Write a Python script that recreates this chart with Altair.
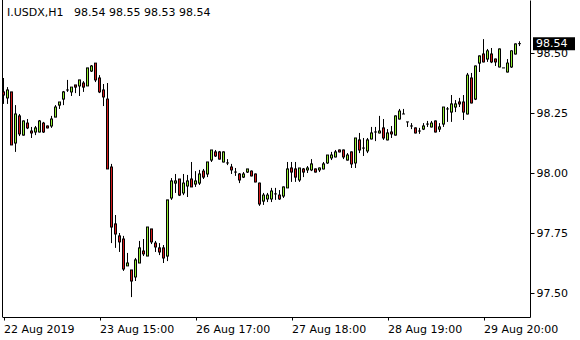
import altair as alt
import pandas as pd

# ---- data (I.USDX, H1) ----
opens = [
    98.339, 98.314, 98.339, 98.126, 98.239, 98.159, 98.209, 98.176, 98.172, 98.172,
    98.209, 98.197, 98.197, 98.234, 98.284, 98.309, 98.347, 98.339, 98.368, 98.364,
    98.376, 98.364, 98.426, 98.459, 98.397, 98.347, 98.309, 98.026, 97.789, 97.739,
    97.726, 97.614, 97.597, 97.568, 97.626, 97.676, 97.655, 97.768, 97.709, 97.689,
    97.689, 97.655, 97.897, 97.959, 97.976, 97.918, 97.947, 97.976, 97.955, 97.959,
    98.009, 97.997, 98.055, 98.089, 98.089, 98.047, 98.043, 98.026, 98.005, 97.997,
    97.984, 98.005, 98.009, 97.997, 97.959, 97.884, 97.893, 97.893, 97.914, 97.909,
    97.905, 97.939, 98.022, 98.018, 97.972, 98.018, 98.014, 98.014, 98.018, 98.014,
    98.018, 98.043, 98.064, 98.068, 98.097, 98.097, 98.055, 98.089, 98.043, 98.139,
    98.105, 98.093, 98.143, 98.172, 98.168, 98.189, 98.139, 98.172, 98.159, 98.226,
    98.247, 98.214, 98.197, 98.189, 98.176, 98.184, 98.205, 98.193, 98.218, 98.184,
    98.205, 98.268, 98.255, 98.276, 98.297, 98.297, 98.247, 98.397, 98.309, 98.459,
    98.497, 98.476, 98.497, 98.476, 98.443, 98.439, 98.422, 98.443, 98.497, 98.540,
]
highs = [
    98.397, 98.359, 98.339, 98.284, 98.247, 98.220, 98.226, 98.193, 98.197, 98.222,
    98.214, 98.199, 98.239, 98.284, 98.297, 98.343, 98.389, 98.359, 98.368, 98.389,
    98.384, 98.439, 98.451, 98.459, 98.409, 98.372, 98.376, 98.039, 97.826, 97.751,
    97.739, 97.668, 97.597, 97.647, 97.718, 97.726, 97.776, 97.768, 97.718, 97.709,
    97.701, 97.889, 97.980, 97.997, 97.976, 97.997, 97.993, 98.047, 98.009, 98.014,
    98.018, 98.047, 98.097, 98.097, 98.093, 98.091, 98.059, 98.039, 98.022, 98.001,
    98.005, 98.018, 98.012, 97.999, 97.961, 97.918, 97.918, 97.939, 97.939, 97.930,
    97.945, 98.047, 98.047, 98.047, 98.022, 98.022, 98.030, 98.059, 98.020, 98.024,
    98.047, 98.076, 98.089, 98.097, 98.099, 98.099, 98.084, 98.091, 98.147, 98.168,
    98.147, 98.147, 98.193, 98.193, 98.239, 98.226, 98.184, 98.197, 98.241, 98.268,
    98.268, 98.214, 98.209, 98.191, 98.189, 98.209, 98.218, 98.218, 98.220, 98.209,
    98.276, 98.276, 98.326, 98.305, 98.314, 98.326, 98.418, 98.418, 98.449, 98.491,
    98.559, 98.518, 98.522, 98.478, 98.520, 98.439, 98.476, 98.512, 98.541, 98.550,
]
lows = [
    98.289, 98.289, 98.118, 98.089, 98.155, 98.157, 98.184, 98.147, 98.159, 98.170,
    98.168, 98.187, 98.189, 98.234, 98.268, 98.284, 98.339, 98.322, 98.334, 98.322,
    98.339, 98.364, 98.422, 98.380, 98.334, 98.280, 98.018, 97.709, 97.689, 97.672,
    97.593, 97.614, 97.484, 97.551, 97.626, 97.655, 97.655, 97.705, 97.672, 97.659,
    97.626, 97.634, 97.889, 97.918, 97.905, 97.909, 97.901, 97.943, 97.943, 97.951,
    97.976, 97.984, 98.047, 98.068, 98.057, 98.045, 98.034, 97.997, 97.989, 97.959,
    97.980, 98.001, 97.987, 97.962, 97.864, 97.868, 97.880, 97.880, 97.889, 97.889,
    97.897, 97.939, 97.964, 97.964, 97.964, 97.984, 98.001, 98.009, 98.003, 98.005,
    98.016, 98.039, 98.055, 98.066, 98.087, 98.059, 98.053, 98.022, 98.022, 98.084,
    98.072, 98.084, 98.141, 98.134, 98.166, 98.139, 98.137, 98.147, 98.157, 98.224,
    98.247, 98.193, 98.184, 98.166, 98.164, 98.180, 98.193, 98.191, 98.170, 98.172,
    98.193, 98.214, 98.214, 98.255, 98.276, 98.222, 98.245, 98.291, 98.305, 98.422,
    98.462, 98.464, 98.459, 98.447, 98.441, 98.439, 98.420, 98.439, 98.495, 98.530,
]
closes = [
    98.326, 98.347, 98.118, 98.247, 98.164, 98.218, 98.189, 98.168, 98.189, 98.218,
    98.172, 98.189, 98.226, 98.276, 98.297, 98.339, 98.347, 98.359, 98.359, 98.389,
    98.359, 98.439, 98.447, 98.389, 98.339, 98.318, 98.018, 97.776, 97.747, 97.714,
    97.601, 97.626, 97.551, 97.639, 97.689, 97.664, 97.776, 97.714, 97.693, 97.672,
    97.647, 97.889, 97.968, 97.968, 97.909, 97.959, 97.968, 97.943, 97.968, 97.997,
    97.984, 98.047, 98.097, 98.072, 98.059, 98.089, 98.043, 98.014, 98.005, 97.972,
    97.997, 98.018, 97.989, 97.964, 97.872, 97.909, 97.909, 97.926, 97.914, 97.893,
    97.943, 98.018, 98.005, 97.984, 98.022, 98.005, 98.022, 98.039, 98.005, 98.022,
    98.039, 98.076, 98.076, 98.089, 98.089, 98.068, 98.076, 98.039, 98.147, 98.097,
    98.105, 98.139, 98.168, 98.172, 98.176, 98.147, 98.168, 98.164, 98.239, 98.259,
    98.247, 98.214, 98.197, 98.168, 98.176, 98.197, 98.205, 98.209, 98.172, 98.193,
    98.276, 98.268, 98.289, 98.289, 98.289, 98.255, 98.409, 98.293, 98.447, 98.489,
    98.464, 98.510, 98.464, 98.464, 98.518, 98.439, 98.459, 98.510, 98.539, 98.540,
]
tick_bars = [0, 24, 48, 72, 96, 120]
tick_labels = ["22 Aug 2019", "23 Aug 15:00", "26 Aug 17:00",
               "27 Aug 18:00", "28 Aug 19:00", "29 Aug 20:00"]
price_ticks = [97.50, 97.75, 98.00, 98.25, 98.50]
header = "I.USDX,H1\u00a0\u00a0\u00a098.54 98.55 98.53 98.54"

# ---- table ----
df = pd.DataFrame({"i": list(range(len(opens))), "open": opens, "high": highs,
                   "low": lows, "close": closes})
df["top"] = df[["open", "close"]].max(axis=1)
df["bot"] = df[["open", "close"]].min(axis=1)
df["dir"] = ["up" if c >= o else "down" for o, c in zip(opens, closes)]
last_df = pd.DataFrame({"price": [closes[-1]], "label": [f"{closes[-1]:.2f}"]})
head_df = pd.DataFrame({"t": [header]})

W, H = 528, 317
FONT = "DejaVu Sans"

label_expr = ""
for v, l in zip(tick_bars, tick_labels):
    label_expr += f"datum.value == {v} ? '{l}' : "
label_expr += "''"

xs = alt.Scale(domain=[-0.375, 131.625], nice=False, zero=False, padding=0)
ys = alt.Scale(domain=[97.401, 98.722], nice=False, zero=False, padding=0)
xaxis = alt.Axis(values=tick_bars, labelExpr=label_expr, title=None, grid=False,
                 tickSize=3, labelAlign="left", labelFlush=False, labelOverlap=False,
                 labelPadding=3, labelFont=FONT, labelFontSize=11, labelColor="black",
                 tickColor="black", domainColor="black")
yaxis = alt.Axis(orient="right", values=price_ticks, format=".2f", title=None, grid=False,
                 tickSize=4, labelPadding=2, labelFont=FONT, labelFontSize=11,
                 labelColor="black", tickColor="black", domainColor="black",
                 labelBaseline="middle")

base = alt.Chart(df).encode(x=alt.X("i:Q", scale=xs, axis=xaxis))

wicks = base.mark_rule(color="black", strokeWidth=1).encode(
    y=alt.Y("low:Q", scale=ys, axis=yaxis), y2="high:Q")

# outer black body (acts as 1px outline), then coloured core
outer = base.mark_bar(size=3, color="black", yOffset=-0.5, y2Offset=0.5).encode(
    y=alt.Y("top:Q", scale=ys, axis=yaxis), y2="bot:Q")

inner = base.transform_filter("datum.top - datum.bot > 0.0045").mark_bar(
    size=1, yOffset=0.5, y2Offset=-0.5, opacity=1).encode(
    y=alt.Y("top:Q", scale=ys, axis=yaxis), y2="bot:Q",
    color=alt.Color("dir:N", scale=alt.Scale(domain=["up", "down"],
                                             range=["#90ee30", "#d41a1a"]), legend=None))

tag_box = alt.Chart(last_df).mark_tick(size=42, thickness=13, color="black", opacity=1).encode(
    y=alt.Y("price:Q", scale=ys, axis=yaxis), x=alt.value(552))

tag_text = alt.Chart(last_df).mark_text(align="left", baseline="middle", color="white",
                                        font=FONT, fontSize=11).encode(
    y=alt.Y("price:Q", scale=ys, axis=yaxis), x=alt.value(534), text="label:N")

head = alt.Chart(head_df).mark_text(align="left", baseline="alphabetic", color="black",
                                    font=FONT, fontSize=11).encode(
    x=alt.value(5), y=alt.value(16), text="t:N")

left_border = alt.Chart(head_df).mark_rule(color="black", strokeWidth=1).encode(
    x=alt.value(0.5), y=alt.value(0), y2=alt.value(H))

chart = alt.layer(wicks, outer, inner, tag_box, tag_text, head, left_border).properties(
    width=W, height=H,
    autosize=alt.AutoSizeParams(type="none"),
    padding={"left": 2, "top": 0, "right": 50, "bottom": 23},
    background="white",
).configure_view(stroke=None)

chart.save("out.html", embed_options={"renderer": "svg", "actions": False})
